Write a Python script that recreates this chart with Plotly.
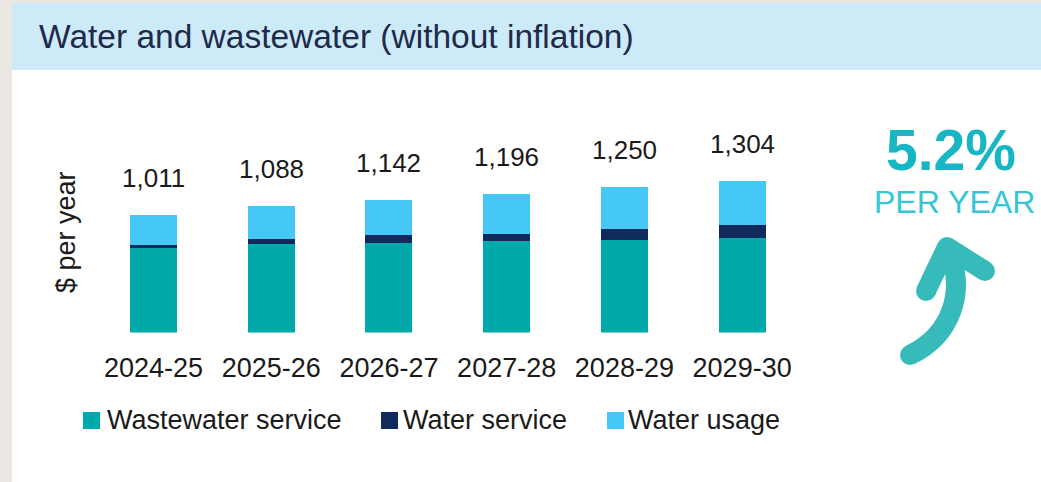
import plotly.graph_objects as go

W, H = 1041, 482

# ---------------- data ----------------
categories = ["2024-25", "2025-26", "2026-27", "2027-28", "2028-29", "2029-30"]
wastewater_service = [730, 765, 775, 787, 799, 817]
water_service = [23, 40, 62, 65, 92, 107]
water_usage = [258, 283, 305, 344, 359, 380]
totals = [1011, 1088, 1142, 1196, 1250, 1304]
series_names = ["Wastewater service", "Water service", "Water usage"]
series_colors = ["#00A9A9", "#112A5C", "#45C8F5"]
title_text = "Water and wastewater (without inflation)"
y_title = "$ per year"
growth_value = "5.2%"
growth_sub = "PER YEAR"

FONT = "Liberation Sans, Arial, sans-serif"


def px(x):
    return x / W


def py(y):
    return 1 - y / H


fig = go.Figure()
for name, vals, col in zip(series_names, [wastewater_service, water_service, water_usage], series_colors):
    fig.add_trace(go.Bar(x=categories, y=vals, name=name, marker=dict(color=col, line=dict(width=0)),
                         showlegend=False, hoverinfo="skip"))

annotations = []
# totals above bars
for c, t in zip(categories, totals):
    annotations.append(dict(x=c, y=t, xref="x", yref="y", text=f"{t:,}", showarrow=False,
                            yanchor="middle", yshift=37, font=dict(size=26, color="#1a1a1a", family=FONT)))

# title
annotations.append(dict(x=px(37), y=py(37), xref="paper", yref="paper", text=title_text, showarrow=False,
                        xanchor="left", yanchor="middle", font=dict(size=33.5, color="#1F2A4A", family=FONT)))
# y axis title
annotations.append(dict(x=px(66), y=py(232), xref="paper", yref="paper", text=y_title, showarrow=False,
                        textangle=-90, xanchor="center", yanchor="middle",
                        font=dict(size=27, color="#1a1a1a", family=FONT)))
# growth
annotations.append(dict(x=px(951), y=py(150), xref="paper", yref="paper", text=f"<b>{growth_value}</b>",
                        showarrow=False, xanchor="center", yanchor="middle",
                        font=dict(size=57, color="#17B6C4", family=FONT)))
annotations.append(dict(x=px(954), y=py(202), xref="paper", yref="paper", text=growth_sub,
                        showarrow=False, xanchor="center", yanchor="middle",
                        font=dict(size=32, color="#36C4D6", family=FONT)))

shapes = []
# background panels
shapes.append(dict(type="rect", xref="paper", yref="paper", x0=px(12), x1=px(1041), y0=py(482), y1=py(3),
                   fillcolor="white", line=dict(width=0), layer="below"))
shapes.append(dict(type="rect", xref="paper", yref="paper", x0=px(12), x1=px(1041), y0=py(70), y1=py(3),
                   fillcolor="#CDEAF9", line=dict(width=0), layer="below"))

# manual legend
legend_pos = [(83, 108), (381, 404), (607, 629)]
for (sx, tx), name, col in zip(legend_pos, series_names, series_colors):
    shapes.append(dict(type="rect", xref="paper", yref="paper", x0=px(sx), x1=px(sx + 17),
                       y0=py(429), y1=py(412), fillcolor=col, line=dict(width=0)))
    annotations.append(dict(x=px(tx - 3), y=py(420), xref="paper", yref="paper", text=name, showarrow=False,
                            xanchor="left", yanchor="middle", font=dict(size=27, color="#1a1a1a", family=FONT)))

# curved arrow
ARROW = "#37BABA"
SW = 20


def P(x, y):
    return f"{px(x):.5f},{py(y):.5f}"


tail = (910, 355)
tip = (947, 247)
left_end = (926, 291)
right_end = (985, 271)
shapes.append(dict(type="path", xref="paper", yref="paper",
                   path=f"M{P(*tail)} C{P(950, 336)} {P(968, 292)} {P(*tip)}",
                   line=dict(color=ARROW, width=SW)))
for end in (left_end, right_end):
    shapes.append(dict(type="path", xref="paper", yref="paper",
                       path=f"M{P(*tip)} L{P(*end)}", line=dict(color=ARROW, width=SW)))
for cx, cy in (tail, tip, left_end, right_end):
    shapes.append(dict(type="circle", xref="paper", yref="paper",
                       x0=px(cx - SW / 2), x1=px(cx + SW / 2), y0=py(cy + SW / 2), y1=py(cy - SW / 2),
                       fillcolor=ARROW, line=dict(width=0)))

fig.update_layout(
    width=W, height=H,
    margin=dict(l=0, r=0, t=0, b=0),
    paper_bgcolor="#EBE7E3",
    plot_bgcolor="rgba(0,0,0,0)",
    barmode="stack",
    bargap=0.6,
    showlegend=False,
    font=dict(family=FONT, color="#1a1a1a"),
    xaxis=dict(domain=[px(94.6), px(801)], showline=False, showgrid=False, zeroline=False,
               ticks="", ticklabelstandoff=16, automargin=False,
               tickfont=dict(size=27, color="#1a1a1a", family=FONT)),
    yaxis=dict(domain=[py(332.5), py(170)], range=[0, 1400], showline=False, showgrid=False,
               zeroline=False, showticklabels=False, ticks="", automargin=False),
    annotations=annotations,
    shapes=shapes,
)

fig.write_html("out.html")
